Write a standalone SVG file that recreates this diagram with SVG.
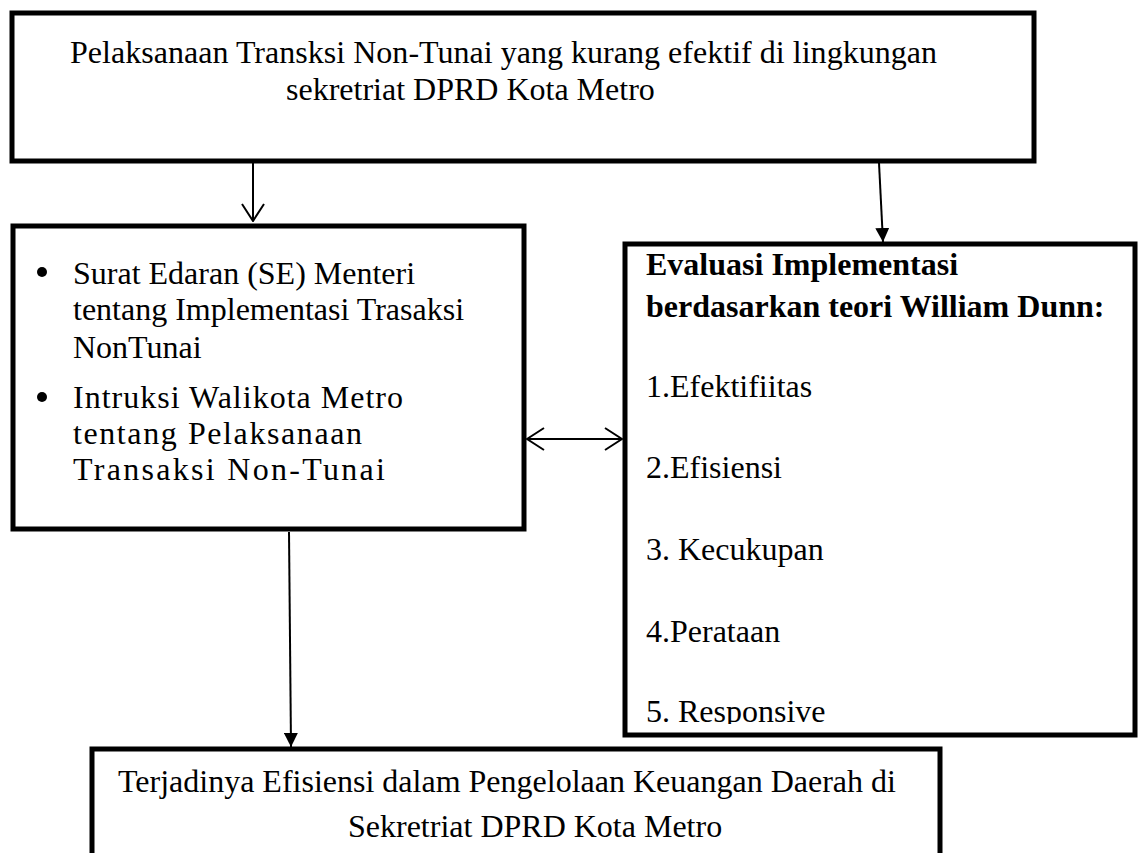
<svg xmlns="http://www.w3.org/2000/svg" width="1142" height="853" viewBox="0 0 1142 853">
<style>
  .box { fill: #ffffff; stroke: #000000; stroke-width: 5; }
  .t { font-family: "Liberation Serif", "Times New Roman", serif; font-size: 32px; fill: #000000; }
  .b { font-weight: bold; }
  .line { stroke: #000000; stroke-width: 2; fill: none; }
</style>
<defs>
  <marker id="tri" viewBox="0 0 14 14" refX="14" refY="7" markerWidth="14" markerHeight="14" markerUnits="userSpaceOnUse" orient="auto">
    <path d="M0,0 L14,7 L0,14 Z" fill="#000000"/>
  </marker>
  <marker id="chev" viewBox="0 0 20 24" refX="19" refY="12" markerWidth="20" markerHeight="24" markerUnits="userSpaceOnUse" orient="auto-start-reverse">
    <path d="M2,1 L19,12 L2,23" fill="none" stroke="#000000" stroke-width="2"/>
  </marker>
  <clipPath id="clipR"><rect x="628" y="247" width="505" height="477"/></clipPath>
</defs>
<rect width="1142" height="853" fill="#ffffff"/>

<g id="node-top">
  <rect class="box" x="12" y="13" width="1022" height="148"/>
  <text class="t" x="70" y="63" textLength="867">Pelaksanaan Transksi Non-Tunai yang kurang efektif di lingkungan</text>
  <text class="t" x="286" y="100">sekretriat DPRD Kota Metro</text>
</g>

<g id="node-left">
  <rect class="box" x="13" y="226" width="511" height="303"/>
  <circle cx="42" cy="272" r="5"/>
  <circle cx="42" cy="397" r="5"/>
  <text class="t" x="73" y="284">Surat Edaran (SE) Menteri</text>
  <text class="t" x="73" y="320">tentang Implementasi Trasaksi</text>
  <text class="t" x="73" y="358">NonTunai</text>
  <text class="t" x="73" y="408" textLength="330" lengthAdjust="spacing">Intruksi Walikota Metro</text>
  <text class="t" x="73" y="444" textLength="289" lengthAdjust="spacing">tentang Pelaksanaan</text>
  <text class="t" x="73" y="480" textLength="312" lengthAdjust="spacing">Transaksi Non-Tunai</text>
</g>

<g id="node-right">
  <rect class="box" x="625" y="244" width="510" height="491"/>
  <text class="t b" x="646" y="275">Evaluasi Implementasi</text>
  <text class="t b" x="646" y="317">berdasarkan teori William Dunn:</text>
  <g clip-path="url(#clipR)">
    <text class="t" x="646" y="397">1.Efektifiitas</text>
    <text class="t" x="646" y="478">2.Efisiensi</text>
    <text class="t" x="646" y="560">3. Kecukupan</text>
    <text class="t" x="646" y="642">4.Perataan</text>
    <text class="t" x="646" y="722">5. Responsive</text>
  </g>
</g>

<g id="node-bottom">
  <rect class="box" x="92" y="749" width="848" height="120"/>
  <text class="t" x="118" y="792">Terjadinya Efisiensi dalam Pengelolaan Keuangan Daerah di</text>
  <text class="t" x="348" y="837">Sekretriat DPRD Kota Metro</text>
</g>

<g id="connectors">
  <line class="line" x1="253" y1="163" x2="253" y2="221" marker-end="url(#chev)"/>
  <line class="line" x1="879" y1="163" x2="883" y2="242" marker-end="url(#tri)"/>
  <line class="line" x1="527" y1="439" x2="622" y2="439" marker-start="url(#chev)" marker-end="url(#chev)"/>
  <line class="line" x1="289" y1="532" x2="291" y2="747" marker-end="url(#tri)"/>
</g>
</svg>
